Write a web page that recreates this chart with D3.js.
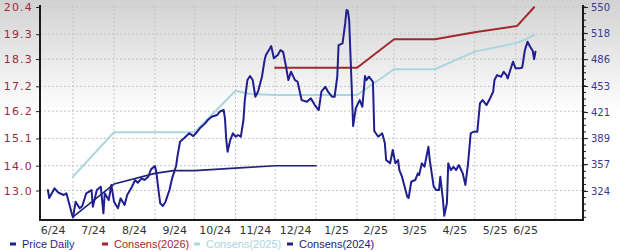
<!DOCTYPE html>
<html>
<head>
<meta charset="utf-8">
<script src="https://cdn.jsdelivr.net/npm/d3@7"></script>
<style>
  body { margin: 0; background: #fff; }
  svg { display: block; }
</style>
</head>
<body>
<div id="chart"></div>
<script>
// daily price (right axis)
var priceDaily = [
  ["2024-06-12",325.2],["2024-06-13",315.4],["2024-06-17",327.3],["2024-06-20",321.9],["2024-06-24",319.1],
  ["2024-06-26",321.2],["2024-06-30",296.6],["2024-07-01",291.7],["2024-07-03",310.9],["2024-07-06",302.8],
  ["2024-07-08",305.6],["2024-07-11",321.2],["2024-07-15",325.2],["2024-07-16",304.7],["2024-07-19",325.2],
  ["2024-07-22",329.3],["2024-07-24",296.6],["2024-07-25",321.2],["2024-07-28",313.0],["2024-07-30",331.4],
  ["2024-08-01",310.9],["2024-08-04",302.8],["2024-08-06",315.0],["2024-08-09",306.8],["2024-08-11",319.1],
  ["2024-08-14",327.3],["2024-08-17",337.5],["2024-08-19",334.2],["2024-08-22",339.6],["2024-08-24",337.5],
  ["2024-08-27",341.6],["2024-08-29",350.6],["2024-09-01",354.7],["2024-09-02",347.7],["2024-09-04",321.2],
  ["2024-09-05",308.9],["2024-09-07",305.6],["2024-09-09",310.9],["2024-09-12",325.2],["2024-09-14",339.6],
  ["2024-09-17",354.7],["2024-09-18",366.1],["2024-09-20",384.5],["2024-09-23",388.7],["2024-09-27",394.9],
  ["2024-09-30",391.5],["2024-10-02",394.9],["2024-10-05",401.0],["2024-10-09",407.1],["2024-10-11",411.2],
  ["2024-10-14",415.2],["2024-10-18",417.3],["2024-10-20",421.4],["2024-10-23",423.5],["2024-10-24",413.3],
  ["2024-10-25",386.6],["2024-10-26",372.3],["2024-10-28",386.6],["2024-10-30",394.9],["2024-11-01",390.7],
  ["2024-11-03",392.8],["2024-11-05",390.7],["2024-11-07",411.2],["2024-11-08",435.7],["2024-11-10",460.3],
  ["2024-11-12",465.2],["2024-11-14",460.3],["2024-11-16",439.8],["2024-11-18",446.0],["2024-11-21",464.4],
  ["2024-11-23",484.9],["2024-11-24",491.0],["2024-11-27",499.2],["2024-11-28",502.1],["2024-11-30",487.0],
  ["2024-12-02",489.8],["2024-12-03",491.0],["2024-12-05",497.1],["2024-12-07",495.0],["2024-12-09",478.7],
  ["2024-12-11",460.3],["2024-12-13",470.5],["2024-12-16",460.3],["2024-12-18",458.2],["2024-12-21",435.7],
  ["2024-12-25",433.7],["2024-12-28",437.8],["2024-12-31",429.6],["2025-01-03",423.5],["2025-01-05",446.0],
  ["2025-01-08",452.1],["2025-01-10",446.0],["2025-01-13",439.8],["2025-01-15",439.8],["2025-01-17",464.4],
  ["2025-01-18",503.3],["2025-01-21",505.4],["2025-01-23",529.9],["2025-01-24",546.3],["2025-01-25",545.6],
  ["2025-01-26",534.0],["2025-01-28",448.0],["2025-01-29",403.8],["2025-01-31",425.6],["2025-02-03",435.7],
  ["2025-02-05",427.5],["2025-02-07",465.2],["2025-02-08",460.3],["2025-02-10",464.4],["2025-02-13",458.2],
  ["2025-02-14",397.7],["2025-02-17",390.7],["2025-02-20",394.9],["2025-02-22",383.0],["2025-02-23",362.1],
  ["2025-02-26",358.0],["2025-02-28",374.3],["2025-03-02",358.0],["2025-03-04",362.1],["2025-03-05",349.8],
  ["2025-03-07",341.6],["2025-03-09",329.3],["2025-03-11",317.0],["2025-03-12",315.4],["2025-03-13",325.2],
  ["2025-03-14",335.4],["2025-03-17",337.5],["2025-03-19",345.7],["2025-03-20",343.6],["2025-03-22",358.0],
  ["2025-03-24",353.8],["2025-03-27",378.4],["2025-03-28",362.1],["2025-03-31",329.3],["2025-04-02",325.2],
  ["2025-04-04",325.2],["2025-04-05",341.6],["2025-04-07",313.0],["2025-04-08",293.5],["2025-04-10",309.3],
  ["2025-04-11",358.0],["2025-04-13",349.8],["2025-04-15",353.8],["2025-04-17",349.8],["2025-04-19",355.9],
  ["2025-04-22",345.7],["2025-04-24",331.4],["2025-04-26",358.0],["2025-04-28",394.9],["2025-04-30",396.8],
  ["2025-05-03",396.8],["2025-05-05",431.7],["2025-05-07",435.7],["2025-05-10",429.6],["2025-05-12",435.7],
  ["2025-05-15",446.0],["2025-05-16",460.3],["2025-05-18",466.4],["2025-05-21",464.4],["2025-05-23",470.5],
  ["2025-05-25",466.4],["2025-05-26",462.4],["2025-05-28",472.6],["2025-05-30",482.8],["2025-06-01",474.7],
  ["2025-06-04",474.7],["2025-06-06",475.7],["2025-06-08",497.1],["2025-06-10",507.4],["2025-06-12",501.2],
  ["2025-06-14",495.9],["2025-06-15",486.1],["2025-06-16",495.1]
];

// consensus EPS estimates (left axis)
var consens2026 = [
  ["2024-12-01",17.95],["2025-01-01",17.95],["2025-02-01",17.95],["2025-03-01",19.10],
  ["2025-04-01",19.10],["2025-05-01",19.38],["2025-06-02",19.63],["2025-06-15",20.39]
];
var consens2025 = [
  ["2024-07-01",13.56],["2024-08-01",15.35],["2024-09-01",15.35],["2024-10-01",15.35],
  ["2024-11-01",17.02],["2024-11-12",16.89],["2024-12-01",16.85],["2025-01-01",16.85],
  ["2025-02-01",16.85],["2025-03-01",17.89],["2025-04-01",17.89],["2025-05-01",18.60],
  ["2025-06-01",18.94],["2025-06-09",19.10],["2025-06-15",19.27]
];
var consens2024 = [
  ["2024-07-01",11.94],["2024-08-01",13.26],["2024-09-01",13.69],["2024-09-15",13.80],
  ["2024-10-01",13.80],["2024-11-01",13.90],["2024-12-01",14.00],["2025-01-01",14.00]
];

// axis tick labels
var epsTicks = [13.0, 14.0, 15.1, 16.2, 17.2, 18.3, 19.3, 20.4];
var priceTicks = [324, 357, 389, 421, 453, 486, 518, 550];
var monthLabels = ["6/24","7/24","8/24","9/24","10/24","11/24","12/24","1/25","2/25","3/25","4/25","5/25","6/25"];

var legendItems = [
  {name: "Price Daily", color: "#1f1f8f"},
  {name: "Consens(2026)", color: "#a3282d"},
  {name: "Consens(2025)", color: "#a9d6df"},
  {name: "Consens(2024)", color: "#22227a"}
];

function drawChart() {
  var svgWidth = 620, svgHeight = 252;
  var plotLeft = 40, plotRight = 583, plotTop = 5, plotBottom = 220;

  var parse = d3.timeParse("%Y-%m-%d");
  var toPts = function(arr) { return arr.map(function(d) { return {date: parse(d[0]), value: d[1]}; }); };

  var price = toPts(priceDaily);
  var c26 = toPts(consens2026), c25 = toPts(consens2025), c24 = toPts(consens2024);

  var svg = d3.select("#chart").append("svg")
    .attr("width", svgWidth)
    .attr("height", svgHeight);

  // background gradient
  var defs = svg.append("defs");
  var grad = defs.append("linearGradient")
    .attr("id", "bg").attr("x1", 0).attr("y1", 0).attr("x2", 0).attr("y2", 1);
  grad.append("stop").attr("offset", "0").attr("stop-color", "#d2d2d2");
  grad.append("stop").attr("offset", "0.45").attr("stop-color", "#ffffff");
  grad.append("stop").attr("offset", "1").attr("stop-color", "#ffffff");
  svg.append("rect").attr("width", svgWidth).attr("height", svgHeight).attr("fill", "url(#bg)");

  defs.append("clipPath").attr("id", "plot")
    .append("rect").attr("x", plotLeft).attr("y", plotTop)
    .attr("width", plotRight - plotLeft).attr("height", plotBottom - plotTop);

  var x = d3.scaleTime()
    .domain([new Date(2024, 5, 6), new Date(2025, 6, 22)])
    .range([plotLeft, plotRight]);
  var yEps = d3.scaleLinear().domain([11.81, 20.48]).range([plotBottom, plotTop]);
  var yPrice = d3.scaleLinear().domain([288.4, 552.5]).range([plotBottom, plotTop]);

  // grid
  var months = d3.timeMonth.range(new Date(2024, 5, 1), new Date(2025, 6, 2));
  svg.append("g").selectAll("line")
    .data(months.filter(function(m) { return x(m) > plotLeft + 2; }))
    .enter().append("line")
    .attr("x1", function(d) { return x(d); }).attr("x2", function(d) { return x(d); })
    .attr("y1", plotTop).attr("y2", plotBottom)
    .attr("stroke", "#c6c6c6").attr("stroke-dasharray", "2,2");

  svg.append("g").selectAll("line")
    .data(epsTicks)
    .enter().append("line")
    .attr("x1", plotLeft).attr("x2", plotRight)
    .attr("y1", function(d) { return yEps(d); }).attr("y2", function(d) { return yEps(d); })
    .attr("stroke", "#c6c6c6").attr("stroke-dasharray", "2,2");

  // lines
  var epsLine = d3.line().x(function(d) { return x(d.date); }).y(function(d) { return yEps(d.value); });
  var priceLine = d3.line().x(function(d) { return x(d.date); }).y(function(d) { return yPrice(d.value); });

  var lines = svg.append("g").attr("clip-path", "url(#plot)")
    .attr("fill", "none").attr("stroke-linejoin", "round").attr("stroke-linecap", "round");

  lines.append("path").datum(c25).attr("d", epsLine).attr("stroke", "#a9d6df").attr("stroke-width", 2);
  lines.append("path").datum(c26).attr("d", epsLine).attr("stroke", "#a3282d").attr("stroke-width", 2);
  lines.append("path").datum(c24).attr("d", epsLine).attr("stroke", "#22227a").attr("stroke-width", 1.6);
  lines.append("path").datum(price).attr("d", priceLine).attr("stroke", "#1f1f8f").attr("stroke-width", 2);

  // axes
  var leftAxis = d3.axisLeft(yEps).tickValues(epsTicks).tickSize(4).tickPadding(3)
    .tickFormat(d3.format(".1f"));
  var gl = svg.append("g").attr("transform", "translate(" + plotLeft + ",0)").call(leftAxis);
  gl.select(".domain").remove();
  gl.selectAll("line").attr("stroke", "#222");
  gl.selectAll("text").attr("fill", "#9a2b3b").attr("font-family", "DejaVu Sans, sans-serif")
    .attr("font-size", 11).attr("letter-spacing", "1.2px");

  var rightAxis = d3.axisRight(yPrice).tickValues(priceTicks).tickSize(5).tickPadding(3);
  var gr = svg.append("g").attr("transform", "translate(" + plotRight + ",0)").call(rightAxis);
  gr.select(".domain").remove();
  gr.selectAll("line").attr("stroke", "#222");
  gr.selectAll("text").attr("fill", "#3a3a92").attr("font-family", "DejaVu Sans, sans-serif")
    .attr("font-size", 10);

  // minor ticks on the right
  var step = (priceTicks[priceTicks.length - 1] - priceTicks[0]) / ((priceTicks.length - 1) * 4);
  var minor = d3.range(priceTicks[priceTicks.length - 1], yPrice.domain()[0], -step);
  svg.append("g").selectAll("line").data(minor).enter().append("line")
    .attr("x1", plotRight).attr("x2", plotRight + 3)
    .attr("y1", function(d) { return yPrice(d); }).attr("y2", function(d) { return yPrice(d); })
    .attr("stroke", "#222");

  // axis frame
  svg.append("path")
    .attr("d", "M" + plotLeft + "," + plotTop + "V" + plotBottom + "H" + plotRight + "V" + plotTop)
    .attr("fill", "none").attr("stroke", "#1a1a1a").attr("stroke-width", 2);

  // month labels, centred within each month (last one clipped at last price)
  var lastDate = price[price.length - 1].date;
  svg.append("g").selectAll("text")
    .data(monthLabels)
    .enter().append("text")
    .attr("x", function(d, i) {
      var a = months[i], b = d3.timeMonth.offset(a, 1);
      if (b > lastDate) b = lastDate;
      return (x(a) + x(b)) / 2;
    })
    .attr("y", 234)
    .attr("text-anchor", "middle")
    .attr("font-family", "DejaVu Sans, sans-serif")
    .attr("font-size", 11)
    .attr("fill", "#333")
    .text(function(d) { return d; });

  // legend
  var legendX = [10, 102, 194, 287];
  var lg = svg.append("g").selectAll("g").data(legendItems).enter().append("g")
    .attr("transform", function(d, i) { return "translate(" + legendX[i] + ",244)"; });
  lg.append("line").attr("x1", 0).attr("x2", 6).attr("y1", 0).attr("y2", 0)
    .attr("stroke", function(d) { return d.color; }).attr("stroke-width", 3);
  lg.append("text").attr("x", 12).attr("y", 4)
    .attr("font-family", "Liberation Sans, Arial, sans-serif").attr("font-size", 11)
    .attr("fill", function(d) { return d.color; })
    .text(function(d) { return d.name; });
}

drawChart();
</script>
</body>
</html>
